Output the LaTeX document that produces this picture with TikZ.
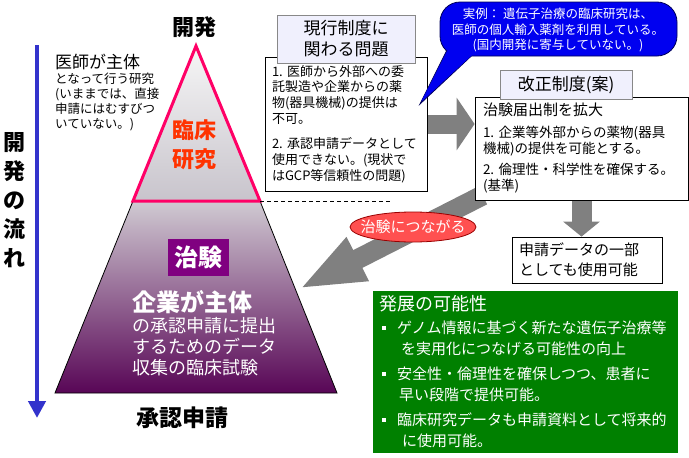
\documentclass[tikz,border=0pt]{standalone}
\usepackage{fontspec}
\setmainfont{Noto Sans CJK JP}
\usetikzlibrary{arrows.meta,shapes.geometric}
\definecolor{pinkc}{RGB}{255,0,102}
\definecolor{rinshored}{RGB}{255,51,0}
\definecolor{purplebox}{RGB}{128,0,128}
\definecolor{flowblue}{RGB}{51,51,204}
\definecolor{callfill}{RGB}{0,0,240}
\definecolor{callline}{RGB}{0,0,90}
\definecolor{garrowc}{RGB}{128,128,128}
\definecolor{redell}{RGB}{255,80,80}
\definecolor{redellline}{RGB}{153,0,0}
\definecolor{greenbox}{RGB}{0,128,0}
\definecolor{lavender}{RGB}{240,240,253}
\definecolor{titleline}{RGB}{136,136,136}
\definecolor{traptop}{RGB}{208,202,210}
\definecolor{trapbot}{RGB}{88,6,86}
\definecolor{tritop}{RGB}{246,246,246}
\definecolor{tribot}{RGB}{200,196,204}
\pgfdeclarelayer{background}
\pgfsetlayers{background,main}
\newcommand{\gbul}{\hspace*{3pt}\rule[4pt]{4pt}{4pt}\hspace*{11pt}}
\begin{document}
\begin{tikzpicture}[x=1pt,y=-1pt,
  plainbox/.style={draw=black, line width=0.8pt, fill=white, align=left},
  titlebox/.style={draw=titleline, line width=0.8pt, fill=lavender, align=center, inner sep=0},
  garrow/.style={draw=garrowc, line width=#1},
  bigtext/.style={font=\fontsize{22}{29}\selectfont\bfseries}
]
\useasboundingbox (0,0) rectangle (689,458);

% ---- pyramid ----
\coordinate (apex) at (196,46);
\coordinate (tl) at (133,201);
\coordinate (tr) at (260,201);
\coordinate (bl) at (55,393);
\coordinate (br) at (337,393);
\shade[top color=traptop, bottom color=trapbot] (tl) -- (tr) -- (br) -- (bl) -- cycle;
\draw[line width=0.8pt] (tl) -- (bl) -- (br) -- (tr);
\shade[top color=tritop, bottom color=tribot] (apex) -- (tr) -- (tl) -- cycle;
\draw[pinkc, line width=3pt] (apex) -- (tr) -- (tl) -- cycle;
\coordinate (dashend) at (392,201);
\draw[line width=0.8pt, dash pattern=on 4pt off 3pt] (tr) -- (dashend);

\node[bigtext, text=rinshored, align=center] (rinsho) at (194,145) {臨床\\研究};
\node[fill=purplebox, text=white, font=\fontsize{24}{24}\selectfont\bfseries,
      minimum width=61, minimum height=37, inner sep=0] (chiken) at (198.5,257.5) {治験};
\node[text=white, align=left, anchor=north west, inner sep=0,
      font=\fontsize{18}{21}\selectfont] (kigyo) at (132,290)
  {{\fontsize{24}{26}\selectfont\bfseries 企業が主体}\\ の承認申請に提出\\ するためのデータ\\ 収集の臨床試験};

\node[font=\fontsize{22}{24}\selectfont\bfseries] (top) at (194,27) {開発};
\node[font=\fontsize{23}{24}\selectfont\bfseries] (bottom) at (182,418) {承認申請};

% ---- flow arrow ----
\coordinate (flows) at (37,45);
\coordinate (flowe) at (37,418);
\draw[flowblue, line width=4.5pt, -{Triangle[length=17pt,width=17pt]}] (flows) -- (flowe);
\node[bigtext, align=center, inner sep=0] (flowlbl) at (14,200) {開\\発\\の\\流\\れ};

\node[anchor=north west, align=left, inner sep=0, font=\fontsize{12.5}{15}\selectfont] (ishi) at (55,54)
  {{\fontsize{17}{18}\selectfont 医師が主体}\\ となって行う研究\\ (いままでは、直接\\ 申請にはむすびつ\\ いていない。)};

% ---- boxes ----
\node[plainbox, minimum width=162, minimum height=134, text width=148, inner xsep=7,
      font=\fontsize{13}{15.7}\selectfont] (genko) at (346,124)
  {1.~医師から外部への委\\託製造や企業からの薬\\物(器具機械)の提供は\\不可。\\[10pt]2.~承認申請データとして\\使用できない。(現状で\\はGCP等信頼性の問題)};
\node[plainbox, minimum width=213, minimum height=103, text width=197, inner xsep=8,
      font=\fontsize{13.5}{16}\selectfont] (kaisei) at (581.5,148.5)
  {{\fontsize{15}{16}\selectfont 治験届出制を拡大}\\[6pt]1.~企業等外部からの薬物(器具\\機械)の提供を可能とする。\\[5pt]2.~倫理性・科学性を確保する。\\(基準)};
\node[plainbox, minimum width=150, minimum height=46, text width=136, inner xsep=7,
      font=\fontsize{15}{20}\selectfont] (shinsei) at (587,260) {申請データの一部\\としても使用可能};

% ---- gray arrows (under the boxes) ----
\coordinate (arrtip) at (299,289);
\begin{pgfonlayer}{background}
\draw[garrow=19pt, -{Triangle[length=18pt,width=52pt]}] (genko.east) -- (genko.east -| kaisei.west);
\draw[garrow=20pt, -{Triangle[length=15pt,width=36pt]}] (kaisei.south) -- (kaisei.south |- shinsei.north);
\draw[garrow=20pt, -{Triangle[length=66pt,width=44pt]}] ([shift={(8,-5)}]kaisei.south west) -- (arrtip);
\end{pgfonlayer}

\node[ellipse, fill=redell, draw=redellline, line width=0.8pt, minimum width=125, minimum height=30,
      inner xsep=-8pt, inner ysep=0pt, text=white, font=\fontsize{15}{15}\selectfont] (tsunagaru) at (413,227) {治験につながる};

% ---- title boxes ----
\node[titlebox, minimum width=138, minimum height=48, font=\fontsize{17}{21}\selectfont] (genkot) at (346,39) {現行制度に\\関わる問題};
\node[titlebox, minimum width=132, minimum height=29, font=\fontsize{17}{18}\selectfont] (kaiseit) at (566,85) {改正制度(案)};

% ---- callout ----
\filldraw[fill=callfill, draw=callline, line width=0.8pt] (420,104) -- (449,46) -- (482,46) -- cycle;
\filldraw[fill=callfill, draw=callline, line width=0.8pt, rounded corners=20] (440,2) rectangle (677,56);
\fill[callfill] (421.5,101) -- (449.5,47) -- (481,47) -- cycle;
\node[text=white, align=center, font=\fontsize{12.5}{15.5}\selectfont] (callout) at (558,30)
  {実例：\ 遺伝子治療の臨床研究は、\\医師の個人輸入薬剤を利用している。\\(国内開発に寄与していない。)};

% ---- green box ----
\node[fill=greenbox, text=white, minimum width=305, minimum height=162, text width=293, inner xsep=6,
      align=left, font=\fontsize{15}{21}\selectfont] (hatten) at (525.5,372)
  {{\fontsize{18}{20}\selectfont 発展の可能性}\\[2pt]
   \gbul ゲノム情報に基づく新たな遺伝子治療等\\
   \hspace*{22pt}を実用化につなげる可能性の向上\\[4pt]
   \gbul 安全性・倫理性を確保しつつ、患者に\\
   \hspace*{20pt}早い段階で提供可能。\\[4pt]
   \gbul 臨床研究データも申請資料として将来的\\
   \hspace*{23pt}に使用可能。};
\end{tikzpicture}
\end{document}
